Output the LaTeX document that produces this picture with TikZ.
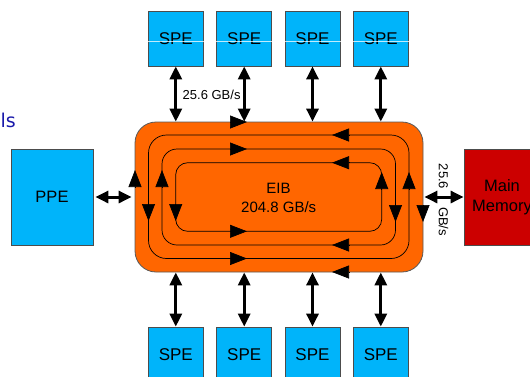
\documentclass[tikz,border=0pt]{standalone}
\usepackage{fontspec}
\setmainfont{Liberation Sans}
\newfontfamily\titlefont{DejaVu Sans}
\usetikzlibrary{arrows.meta}
\definecolor{speblue}{RGB}{0,180,250}
\definecolor{eiborange}{RGB}{255,102,0}
\definecolor{memred}{RGB}{204,0,0}
\definecolor{titleblue}{RGB}{25,25,170}

\begin{document}
\begin{tikzpicture}[x=1pt,y=-1pt,
  unitbox/.style={draw=black!70, line width=0.8pt, inner sep=0pt},
  spebox/.style={unitbox, fill=speblue, minimum width=55pt, minimum height=55pt,
    font=\fontsize{17}{20}\selectfont},
  bigbox/.style={unitbox, minimum height=96pt, align=center,
    font=\fontsize{16.5}{20.5}\selectfont},
  eibbox/.style={draw=black!65, line width=0.8pt, fill=eiborange,
    rounded corners=21pt, minimum width=288pt, minimum height=150pt, inner sep=0pt},
  ring/.style={draw=black, line width=0.7pt},
  ringtip/.style={-{Triangle[length=17pt,width=13pt]}, line width=0.7pt},
  biarrow/.style={{Triangle[length=13pt,width=12pt]}-{Triangle[length=13pt,width=12pt]},
    line width=3pt},
  rate/.style={font=\fontsize{13}{15}\selectfont, inner sep=0pt}
]
\useasboundingbox (0,0) rectangle (530,376);
\clip (0,0) rectangle (530,376);

% cut-off title word at the left edge
\node[anchor=base east, inner sep=0pt, text=titleblue,
  font=\titlefont\fontsize{19}{22}\selectfont] (title) at (16,127) {ls};

% element interconnect bus
\node[eibbox] (eib) at (279,197) {};
\draw[ring, rounded corners=18pt] (148.5,135) rectangle (409,258.5);
\draw[ring, rounded corners=15pt] (162,149) rectangle (395.5,245);
\draw[ring, rounded corners=12pt] (175.7,162.7) rectangle (381.7,231.3);

% direction of each ring
% outer ring: clockwise
\draw[ringtip] (230,122) -- (247,122);
\draw[ringtip] (349,272) -- (332,272);
\draw[ringtip] (135,187) -- (135,170);
\draw[ringtip] (423,205) -- (423,222);
% ring 1: counter-clockwise
\draw[ringtip] (349,135) -- (332,135);
\draw[ringtip] (230,258.5) -- (247,258.5);
\draw[ringtip] (148.5,204) -- (148.5,221);
\draw[ringtip] (409,189) -- (409,172);
% ring 2: clockwise
\draw[ringtip] (230,149) -- (247,149);
\draw[ringtip] (349,245) -- (332,245);
\draw[ringtip] (162,187) -- (162,170);
\draw[ringtip] (395.5,205) -- (395.5,222);
% ring 3: counter-clockwise
\draw[ringtip] (349,162.7) -- (332,162.7);
\draw[ringtip] (230,231.3) -- (247,231.3);
\draw[ringtip] (175.7,204) -- (175.7,221);
\draw[ringtip] (381.7,189) -- (381.7,172);

\node[anchor=base, inner sep=0pt, font=\fontsize{15}{18}\selectfont] (eibname) at (278.5,193) {EIB};
\node[anchor=base, inner sep=0pt, font=\fontsize{15}{18}\selectfont] (eibrate) at (278.7,212.3) {204.8 GB/s};

% synergistic processor elements
\node[spebox] (st1) at (175.8,38.5) {SPE};
\node[spebox] (st2) at (244.2,38.5) {SPE};
\node[spebox] (st3) at (312.5,38.5) {SPE};
\node[spebox] (st4) at (380.8,38.5) {SPE};
\node[spebox] (sb1) at (175.8,354.5) {SPE};
\node[spebox] (sb2) at (244.2,354.5) {SPE};
\node[spebox] (sb3) at (312.5,354.5) {SPE};
\node[spebox] (sb4) at (380.8,354.5) {SPE};
\draw[white, opacity=0.75, line width=0.5pt] (st1.west |- 0,41.3) -- (st4.east |- 0,41.3);

% PPE and main memory
\node[bigbox, fill=speblue, minimum width=82pt] (ppe) at (52,197) {PPE};
\node[bigbox, fill=memred, minimum width=76pt] (mem) at (502,197) {Main\\Memory};

% links
\foreach \n in {1,...,4} {
  \draw[biarrow] (st\n.south) -- (st\n.south |- eib.north);
  \draw[biarrow] (sb\n.north) -- (sb\n.north |- eib.south);
}
\draw[biarrow, shorten <=2pt, shorten >=3pt] (ppe.east) -- (eib.west);
\draw[biarrow, shorten <=1pt] (eib.east) -- (mem.west);

\node[rate, anchor=west] (toprate) at (182.5,95) {25.6 GB/s};
\node[rate, rotate=-90] (memrate) at (443.5,200) {25.6\hspace{18pt}GB/s};
\end{tikzpicture}
\end{document}
